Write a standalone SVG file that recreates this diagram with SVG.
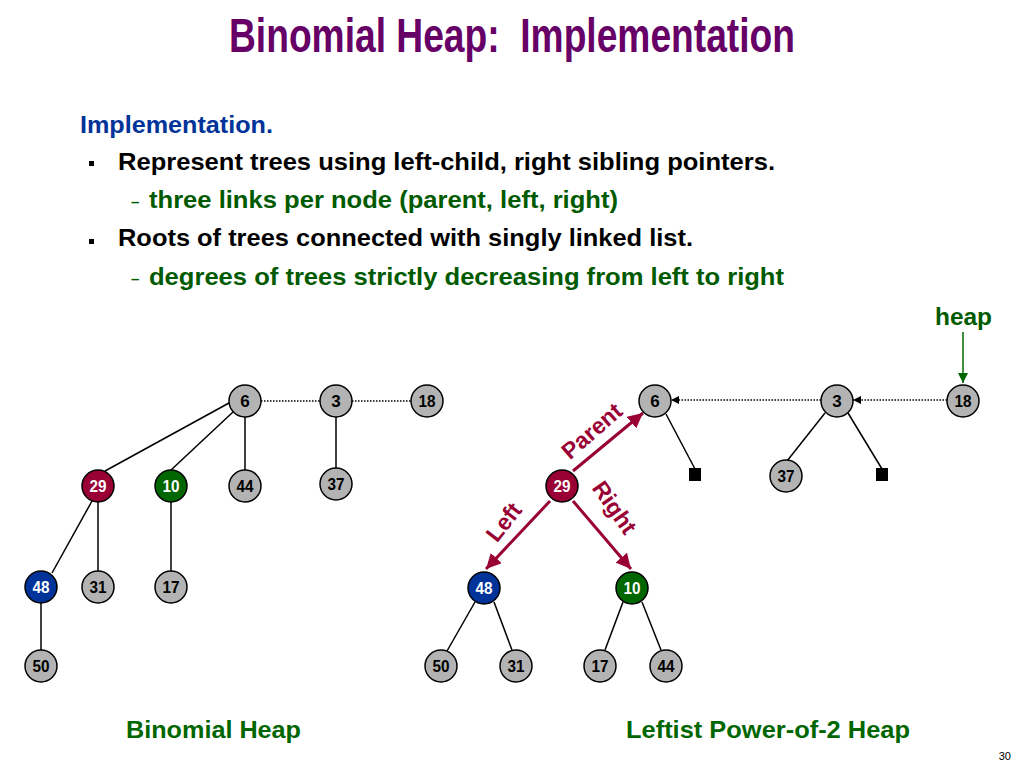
<svg xmlns="http://www.w3.org/2000/svg" width="1024" height="768" viewBox="0 0 1024 768">
<style>
  text { font-family: "Liberation Sans", Arial, Helvetica, sans-serif; font-weight: bold; }
  .title { fill: #660066; font-size: 48px; }
  .blue { fill: #003399; font-size: 24px; }
  .blk { fill: #000; font-size: 24px; }
  .grn { fill: #005a00; font-size: 24px; }
  .cap { fill: #006600; font-size: 24px; }
  .red { fill: #990033; font-size: 23px; }
  .nd { stroke: #000; stroke-width: 1.5; fill: #b3b3b3; }
  .nt { font-size: 17px; text-anchor: middle; fill: #000; }
  .wt { fill: #fff; }
  .edge { stroke: #000; stroke-width: 1.5; fill: none; }
  .dot { stroke: #000; stroke-width: 1.3; stroke-dasharray: 1.5 1.5; fill: none; }
  .ptr { stroke: #990033; stroke-width: 3; fill: none; }
</style>
<defs>
  <marker id="ah" viewBox="0 0 10 10" refX="10" refY="5" markerWidth="8" markerHeight="8" markerUnits="userSpaceOnUse" orient="auto">
    <path d="M0,0 L10,5 L0,10 Z" fill="#000"/>
  </marker>
  <marker id="rh" viewBox="0 0 10 10" refX="10" refY="5" markerWidth="5" markerHeight="5" orient="auto">
    <path d="M0,0 L10,5 L0,10 Z" fill="#990033"/>
  </marker>
  <marker id="gh" viewBox="0 0 10 10" refX="10" refY="5" markerWidth="10" markerHeight="10" markerUnits="userSpaceOnUse" orient="auto">
    <path d="M0,0 L10,5 L0,10 Z" fill="#006600"/>
  </marker>
</defs>
<rect width="1024" height="768" fill="#fff"/>

<text class="title" x="229" y="52" textLength="566" lengthAdjust="spacingAndGlyphs" xml:space="preserve">Binomial Heap:  Implementation</text>

<text class="blue" x="80" y="133" textLength="193" lengthAdjust="spacingAndGlyphs">Implementation.</text>
<rect x="89" y="161" width="5" height="5" fill="#000"/>
<text class="blk" x="118" y="170" textLength="657" lengthAdjust="spacingAndGlyphs">Represent trees using left-child, right sibling pointers.</text>
<text class="grn" x="131" y="207" style="font-size:15px">–</text>
<text class="grn" x="149" y="208" textLength="469" lengthAdjust="spacingAndGlyphs">three links per node (parent, left, right)</text>
<rect x="89" y="239" width="5" height="5" fill="#000"/>
<text class="blk" x="118" y="246" textLength="575" lengthAdjust="spacingAndGlyphs">Roots of trees connected with singly linked list.</text>
<text class="grn" x="131" y="284" style="font-size:15px">–</text>
<text class="grn" x="149" y="285" textLength="635" lengthAdjust="spacingAndGlyphs">degrees of trees strictly decreasing from left to right</text>

<g id="connectors">
  <line class="dot" x1="261" y1="401" x2="320" y2="401"/>
  <line class="dot" x1="352" y1="401" x2="411" y2="401"/>
  <line class="edge" x1="229" y1="403" x2="105" y2="471"/>
  <line class="edge" x1="233" y1="412" x2="171" y2="470"/>
  <line class="edge" x1="245" y1="417" x2="245" y2="470"/>
  <line class="edge" x1="336" y1="417" x2="336" y2="468"/>
  <line class="edge" x1="92" y1="501" x2="52" y2="573"/>
  <line class="edge" x1="98" y1="502" x2="98" y2="571"/>
  <line class="edge" x1="171" y1="502" x2="171" y2="571"/>
  <line class="edge" x1="41" y1="603" x2="41" y2="650"/>
  <line class="dot" x1="947" y1="400" x2="853" y2="400" marker-end="url(#ah)"/>
  <line class="dot" x1="821" y1="400" x2="671" y2="400" marker-end="url(#ah)"/>
  <line x1="963" y1="332" x2="963" y2="383" style="stroke:#006600;stroke-width:1.5" marker-end="url(#gh)"/>
  <line class="edge" x1="666" y1="414" x2="695" y2="469"/>
  <line class="edge" x1="825" y1="413" x2="787" y2="461"/>
  <line class="edge" x1="848" y1="413" x2="882" y2="469"/>
  <line class="edge" x1="475" y1="602" x2="447" y2="651"/>
  <line class="edge" x1="494" y1="602" x2="512" y2="650"/>
  <line class="edge" x1="623" y1="602" x2="605" y2="650"/>
  <line class="edge" x1="642" y1="602" x2="661" y2="650"/>
  <line class="ptr" x1="573" y1="471" x2="643" y2="413" marker-end="url(#rh)"/>
  <line class="ptr" x1="550" y1="501" x2="486" y2="569" marker-end="url(#rh)"/>
  <line class="ptr" x1="573" y1="501" x2="631" y2="569" marker-end="url(#rh)"/>
  <rect x="689" y="468" width="12" height="13" fill="#000"/>
  <rect x="876" y="468" width="12" height="13" fill="#000"/>
</g>

<text class="red" transform="translate(597,437) rotate(-41)" text-anchor="middle">Parent</text>
<text class="red" transform="translate(510,527) rotate(-52)" text-anchor="middle">Left</text>
<text class="red" transform="translate(608,512) rotate(55)" text-anchor="middle">Right</text>
<text class="grn" x="935" y="325" textLength="57" lengthAdjust="spacingAndGlyphs">heap</text>

<g id="b6"><circle class="nd" cx="245" cy="401" r="16"/><text class="nt" x="245" y="407">6</text></g>
<g id="b3"><circle class="nd" cx="336" cy="401" r="16"/><text class="nt" x="336" y="407">3</text></g>
<g id="b18"><circle class="nd" cx="427" cy="401" r="16"/><text class="nt" x="427" y="407" textLength="17" lengthAdjust="spacingAndGlyphs">18</text></g>
<g id="b29"><circle class="nd" cx="98" cy="486" r="16" style="fill:#990033"/><text class="nt wt" x="98" y="492" textLength="17" lengthAdjust="spacingAndGlyphs">29</text></g>
<g id="b10"><circle class="nd" cx="171" cy="486" r="16" style="fill:#006600"/><text class="nt wt" x="171" y="492" textLength="17" lengthAdjust="spacingAndGlyphs">10</text></g>
<g id="b44"><circle class="nd" cx="245" cy="486" r="16"/><text class="nt" x="245" y="492" textLength="17" lengthAdjust="spacingAndGlyphs">44</text></g>
<g id="b37"><circle class="nd" cx="336" cy="484" r="16"/><text class="nt" x="336" y="490" textLength="17" lengthAdjust="spacingAndGlyphs">37</text></g>
<g id="b48"><circle class="nd" cx="41" cy="587" r="16" style="fill:#003399"/><text class="nt wt" x="41" y="593" textLength="17" lengthAdjust="spacingAndGlyphs">48</text></g>
<g id="b31"><circle class="nd" cx="98" cy="587" r="16"/><text class="nt" x="98" y="593" textLength="17" lengthAdjust="spacingAndGlyphs">31</text></g>
<g id="b17"><circle class="nd" cx="171" cy="587" r="16"/><text class="nt" x="171" y="593" textLength="17" lengthAdjust="spacingAndGlyphs">17</text></g>
<g id="b50"><circle class="nd" cx="41" cy="666" r="16"/><text class="nt" x="41" y="672" textLength="17" lengthAdjust="spacingAndGlyphs">50</text></g>

<g id="l6"><circle class="nd" cx="655" cy="401" r="16"/><text class="nt" x="655" y="407">6</text></g>
<g id="l3"><circle class="nd" cx="837" cy="401" r="16"/><text class="nt" x="837" y="407">3</text></g>
<g id="l18"><circle class="nd" cx="963" cy="401" r="16"/><text class="nt" x="963" y="407" textLength="17" lengthAdjust="spacingAndGlyphs">18</text></g>
<g id="l37"><circle class="nd" cx="786" cy="476" r="16"/><text class="nt" x="786" y="482" textLength="17" lengthAdjust="spacingAndGlyphs">37</text></g>
<g id="l29"><circle class="nd" cx="562" cy="486" r="16" style="fill:#990033"/><text class="nt wt" x="562" y="492" textLength="17" lengthAdjust="spacingAndGlyphs">29</text></g>
<g id="l48"><circle class="nd" cx="484" cy="588" r="16" style="fill:#003399"/><text class="nt wt" x="484" y="594" textLength="17" lengthAdjust="spacingAndGlyphs">48</text></g>
<g id="l10"><circle class="nd" cx="632" cy="588" r="16" style="fill:#006600"/><text class="nt wt" x="632" y="594" textLength="17" lengthAdjust="spacingAndGlyphs">10</text></g>
<g id="l50"><circle class="nd" cx="441" cy="666" r="16"/><text class="nt" x="441" y="672" textLength="17" lengthAdjust="spacingAndGlyphs">50</text></g>
<g id="l31"><circle class="nd" cx="516" cy="666" r="16"/><text class="nt" x="516" y="672" textLength="17" lengthAdjust="spacingAndGlyphs">31</text></g>
<g id="l17"><circle class="nd" cx="600" cy="666" r="16"/><text class="nt" x="600" y="672" textLength="17" lengthAdjust="spacingAndGlyphs">17</text></g>
<g id="l44"><circle class="nd" cx="666" cy="666" r="16"/><text class="nt" x="666" y="672" textLength="17" lengthAdjust="spacingAndGlyphs">44</text></g>

<text class="cap" x="126" y="738" textLength="175" lengthAdjust="spacingAndGlyphs">Binomial Heap</text>
<text class="cap" x="626" y="738" textLength="284" lengthAdjust="spacingAndGlyphs">Leftist Power-of-2 Heap</text>
<text x="1011" y="760" text-anchor="end" style="font-size:11px;font-weight:normal;fill:#000">30</text>
</svg>
